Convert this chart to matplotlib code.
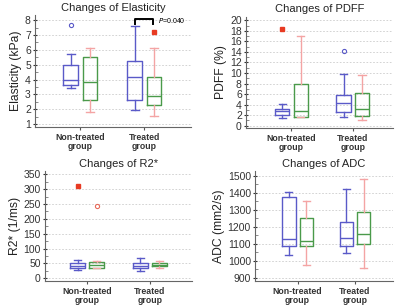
import matplotlib
matplotlib.use('Agg')
from matplotlib import pyplot as plt
from matplotlib.ticker import AutoMinorLocator

plt.rcParams['font.family'] = ['Liberation Sans', 'DejaVu Sans']

groups = ['Non-treated\ngroup', 'Treated\ngroup']

# five-number summaries: low whisker, q1, median, q3, high whisker
# order: non-treated blue, non-treated green, treated blue, treated green
elast_stats = [(3.45, 3.65, 4.0, 5.0, 5.75), (1.8, 2.65, 3.85, 5.5, 6.15),
               (1.95, 2.6, 4.2, 5.25, 7.6), (1.55, 2.25, 2.9, 4.2, 6.1)]
elast_open = [(0, 7.7)]
elast_far = [(3, 7.2)]

pdff_stats = [(1.5, 2.0, 2.7, 3.2, 4.1), (1.7, 1.7, 2.7, 7.9, 17.0),
              (1.6, 2.5, 4.3, 5.8, 9.9), (1.0, 1.8, 3.2, 6.2, 9.6)]
pdff_open = [(2, 14.1)]
pdff_far = [(0, 18.3)]

r2_stats = [(28, 33, 40, 52, 60), (33, 36, 44, 55, 57),
            (24, 35, 42, 50, 68), (34, 40, 45, 50, 57)]
r2_open = [(1, 245)]
r2_far = [(0, 310)]

adc_stats = [(1035, 1085, 1125, 1375, 1405), (975, 1085, 1115, 1250, 1350),
             (1045, 1085, 1135, 1230, 1425), (955, 1100, 1155, 1285, 1480)]
adc_open = []
adc_far = []

BLUE = '#5a5ac8'
GREEN = '#4a9a4a'
PINK = '#f4a4a4'
RED = '#e83a22'

fig = plt.figure(figsize=(4, 3.06), dpi=100)

panels = [
    # rect, title, ylabel, stats, open, far, ylim, yticks, xlim
    ([0.0875, 0.585, 0.39, 0.366], 'Changes of Elasticity', 'Elasticity (kPa)',
     elast_stats, elast_open, elast_far, (0.8, 8.35), range(1, 9), (0.29, 2.73)),
    ([0.6150, 0.582, 0.368, 0.364], 'Changes of PDFF', 'PDFF (%)',
     pdff_stats, pdff_open, pdff_far, (-0.45, 20.75), range(0, 21, 2), (0.26, 2.66)),
    ([0.1125, 0.081, 0.3675, 0.359], 'Changes of R2*', 'R2* (1/ms)',
     r2_stats, r2_open, r2_far, (-10, 360), range(0, 351, 50), (0.33, 2.67)),
    ([0.6375, 0.082, 0.345, 0.360], 'Changes of ADC', 'ADC (mm2/s)',
     adc_stats, adc_open, adc_far, (880, 1530), range(900, 1501, 100), (0.26, 2.66)),
]

pos = [0.85, 1.15, 1.85, 2.15]

for rect, title, ylabel, stats, opn, far, ylim, yticks, xlim in panels:
    ax = fig.add_axes(rect)
    for i, s in enumerate(stats):
        blue = i % 2 == 0
        col = BLUE if blue else GREEN
        wcol = BLUE if blue else PINK
        d = dict(whislo=s[0], q1=s[1], med=s[2], q3=s[3], whishi=s[4], fliers=[])
        ax.bxp([d], positions=[pos[i]], widths=0.23, showfliers=False,
               boxprops=dict(color=col, lw=1.0),
               medianprops=dict(color=col, lw=1.0),
               whiskerprops=dict(color=wcol, lw=1.0),
               capprops=dict(color=wcol, lw=1.0),
               capwidths=0.12)
    for i, v in opn:
        ax.plot(pos[i], v, 'o', ms=3, mfc='none', mec=BLUE if i % 2 == 0 else '#e86a5a', mew=0.8)
    for i, v in far:
        ax.plot(pos[i], v, 's', ms=3, color=RED)
    ax.set_xlim(xlim)
    ax.set_ylim(ylim)
    ax.set_yticks(list(yticks))
    ax.yaxis.set_minor_locator(AutoMinorLocator(2))
    ax.set_xticks([1, 2])
    ax.set_xticklabels(groups, fontsize=6.3, fontweight='bold', color='#333333',
                       linespacing=1.0)
    ax.tick_params(axis='y', which='major', labelsize=7.5, length=3, direction='inout',
                   colors='#333333', pad=1.5)
    ax.tick_params(axis='y', which='minor', length=2, direction='in', colors='#777777')
    ax.tick_params(axis='x', length=2.5, pad=2, colors='#555555')
    for lab in ax.get_xticklabels():
        lab.set_color('#333333')
    ax.grid(axis='y', ls=(0, (2, 2)), color='#cccccc', lw=0.6)
    ax.set_axisbelow(True)
    for sp in ['top', 'right']:
        ax.spines[sp].set_visible(False)
    for sp in ['left', 'bottom']:
        ax.spines[sp].set_color('#666666')
        ax.spines[sp].set_linewidth(0.8)
    ax.set_title(title, fontsize=8, pad=3, color='#222222')
    ax.set_ylabel(ylabel, fontsize=8.7, labelpad=2, color='#222222')
    if title == 'Changes of Elasticity':
        ax.plot([1.85, 1.85, 2.14, 2.14], [7.75, 8.05, 8.05, 7.75], color='black', lw=1.4,
                clip_on=False)
        ax.text(2.21, 8.0, r'$\it{P}$=0.040', fontsize=5, va='center')

fig.savefig('out.png', dpi=100)
